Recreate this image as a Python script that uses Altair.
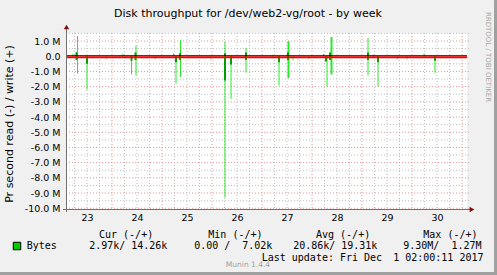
import altair as alt
import pandas as pd
import numpy as np

# ---------------- data (values in millions of bytes per second) ----------------
spike_day = [23.22, 23.31, 23.50, 23.88, 24.22, 24.26, 24.39, 24.48, 24.86, 25.23,
             25.28, 25.37, 25.98, 26.26, 26.38, 26.68, 27.22, 27.34, 27.53, 27.62,
             27.94, 28.23, 28.30, 28.39, 29.12, 29.23, 29.32, 29.71, 29.90, 30.24, 30.46]
spike_write = [0.15, 1.33, 0.0, 0.0, 0.17, 0.0, 0.0, 0.70, 0.0, 0.20,
               0.0, 1.07, 0.0, 0.95, 0.0, 0.55, 0.10, 0.0, 1.00, 0.0,
               0.0, 0.15, 0.0, 1.27, 1.20, 0.10, 0.0, 0.0, 0.0, 0.20, 0.0]
spike_read = [0.0, -1.15, -2.20, -0.20, 0.0, -0.15, -1.20, -1.27, -0.20, 0.0,
              -1.80, -1.36, -0.20, -9.30, -2.80, -1.08, -0.15, -1.93, -1.43, -0.27,
              -0.20, 0.0, -2.00, -1.20, -1.27, -0.05, -2.00, -0.20, -0.20, -0.10, -1.08]
spike_width = [1, 1, 1, 1, 1, 1, 1, 1, 1, 1,
               1, 1, 1, 1, 1, 1, 1, 1, 2, 1,
               1, 1, 1, 2, 1, 1, 1, 1, 1, 1, 1]

core_day = [23.29, 23.50, 24.39, 24.47, 25.28, 25.36, 26.26, 26.38, 26.68, 27.34,
            27.52, 28.28, 28.36, 29.12, 29.32, 30.46]
core_top = [0.27, 0.0, 0.0, 0.25, 0.0, 0.20, 0.20, 0.0, 0.25, 0.0,
            0.25, 0.0, 0.25, 0.25, 0.0, 0.0]
core_bottom = [-0.25, -0.50, -0.30, -0.25, -0.40, -0.25, -1.60, -0.55, -0.25, -0.40,
               -0.25, -0.35, -0.25, -0.25, -0.40, -0.30]

day_labels = ["23", "24", "25", "26", "27", "28", "29", "30"]
y_ticks = [1, 0, -1, -2, -3, -4, -5, -6, -7, -8, -9, -10]

title_text = "Disk throughput for /dev/web2-vg/root - by week"
ytitle_text = "Pr second read (-) / write (+)"
side_text = "RRDTOOL / TOBI OETIKER"
legend_name = "Bytes"
legend_headers = ["Cur (-/+)", "Min (-/+)", "Avg (-/+)", "Max (-/+)"]
legend_left = ["2.97k/", "0.00 /", "20.86k/", "9.30M/"]
legend_right = ["14.26k", "7.02k", "19.31k", "1.27M"]
update_left = "Last update: Fri Dec"
update_right = "1 02:00:11 2017"
munin_text = "Munin 1.4.4"

# ---------------- geometry ----------------
W, H = 401, 176
X0, Y0 = 66, 33
XDOM = [23.08, 31.10]
YDOM = [-10.05, 1.53]

FONT = "DejaVu Sans"
MONO = "DejaVu Sans Mono"
BRIGHT = "#2BE82B"
DARK = "#00A000"

xs = alt.Scale(domain=XDOM, nice=False, zero=False)
ys = alt.Scale(domain=YDOM, nice=False, zero=False)

label_days = [int(d) + 0.5 for d in day_labels]
X_AX = alt.Axis(values=label_days, labelExpr="toString(floor(datum.value))",
                title=None, grid=False, domain=False, ticks=False,
                labelPadding=3, labelFontSize=9.5, labelFont=FONT, labelColor="#000000")
Y_AX = alt.Axis(values=y_ticks,
                labelExpr="datum.value == 0 ? '0.0' : (datum.value < 0 ? '-' : '') + format(abs(datum.value), '.1f') + ' M'",
                title=None, grid=False, domain=False, ticks=False,
                labelPadding=6, labelFontSize=9.5, labelFont=FONT, labelColor="#000000")

# grid positions
minor_x = [d for d in np.arange(23.25, 31.1, 0.25) if abs(d - round(d)) > 1e-6]
major_x = [float(d) for d in range(24, 32)]
minor_y = [v + 0.5 for v in range(-11, 2) if YDOM[0] < v + 0.5 < YDOM[1]]
major_y = [float(v) for v in range(-10, 2) if v != 0]

def vgrid(vals, color):
    df = pd.DataFrame({"x": vals})
    return alt.Chart(df).mark_rule(color=color, strokeWidth=1, strokeDash=[1, 2]).encode(
        x=alt.X("x:Q", scale=xs, axis=X_AX), y=alt.value(0), y2=alt.value(H))

def hgrid(vals, color):
    df = pd.DataFrame({"y": vals})
    return alt.Chart(df).mark_rule(color=color, strokeWidth=1, strokeDash=[1, 2]).encode(
        y=alt.Y("y:Q", scale=ys, axis=Y_AX), x=alt.value(0), x2=alt.value(W + 3))

grid = [vgrid(minor_x, "#BEBEBE"), hgrid(minor_y, "#BEBEBE"),
        vgrid(major_x, "#E89494"), hgrid(major_y, "#E89494")]

spikes = pd.DataFrame({"x": spike_day, "top": spike_write, "bottom": spike_read, "w": spike_width})
spike_layer = alt.Chart(spikes).mark_rule(color=BRIGHT).encode(
    x=alt.X("x:Q", scale=xs, axis=X_AX),
    y=alt.Y("top:Q", scale=ys, axis=Y_AX),
    y2="bottom:Q",
    strokeWidth=alt.StrokeWidth("w:Q", scale=None, legend=None))

cores = pd.DataFrame({"x": core_day, "top": core_top, "bottom": core_bottom})
core_layer = alt.Chart(cores).mark_rule(color=DARK, strokeWidth=2).encode(
    x=alt.X("x:Q", scale=xs, axis=X_AX),
    y=alt.Y("top:Q", scale=ys, axis=Y_AX),
    y2="bottom:Q")

zero_df = pd.DataFrame({"y": [0.0]})
zero_red = alt.Chart(zero_df).mark_rule(color="#FF0000", strokeWidth=2, yOffset=1).encode(
    y=alt.Y("y:Q", scale=ys, axis=Y_AX), x=alt.value(0), x2=alt.value(W))
zero_black = alt.Chart(zero_df).mark_rule(color="#000000", strokeWidth=1, yOffset=-0.5).encode(
    y=alt.Y("y:Q", scale=ys, axis=Y_AX), x=alt.value(0), x2=alt.value(W))

one = pd.DataFrame({"a": [0]})
AXC = "#707070"
yaxis_line = alt.Chart(one).mark_rule(color=AXC, strokeWidth=1).encode(
    x=alt.value(0.5), y=alt.value(H + 3), y2=alt.value(-4))
xaxis_line = alt.Chart(one).mark_rule(color=AXC, strokeWidth=1).encode(
    x=alt.value(-3), x2=alt.value(W + 4), y=alt.value(H + 0.5))
arrow_up = alt.Chart(one).mark_point(shape="triangle-up", filled=True, color="#7F1010",
                                     size=30, opacity=1).encode(x=alt.value(0.5), y=alt.value(-6))
arrow_right = alt.Chart(one).mark_point(shape="triangle-right", filled=True, color="#7F1010",
                                        size=30, opacity=1).encode(x=alt.value(W + 5), y=alt.value(H + 0.5))

def text(df, **kw):
    return alt.Chart(df).mark_text(**kw).encode(
        x=alt.X("px:Q", scale=None), y=alt.Y("py:Q", scale=None), text="t:N")

title_layer = text(pd.DataFrame({"t": [title_text], "px": [248 - X0], "py": [13.5 - Y0]}),
                   font=FONT, fontSize=11, color="#000000", align="center", baseline="middle")
ytitle_layer = text(pd.DataFrame({"t": [ytitle_text], "px": [10 - X0], "py": [124 - Y0]}),
                    font=FONT, fontSize=11, color="#000000", align="center", baseline="middle", angle=270)
side_layer = text(pd.DataFrame({"t": [side_text], "px": [488 - X0], "py": [57 - Y0]}),
                  font=FONT, fontSize=7, color="#A8A8A8", align="center", baseline="middle", angle=90)

hdr = pd.DataFrame({"t": legend_headers, "px": [x - X0 for x in [99, 208.3, 316, 423.3]],
                    "py": [234.5 - Y0] * 4})
hdr_layer = text(hdr, font=MONO, fontSize=10, color="#000000", align="left", baseline="middle")
vl = pd.DataFrame({"t": legend_left, "px": [x - X0 for x in [125.3, 230.3, 335.3, 439.3]],
                   "py": [245.7 - Y0] * 4})
vl_layer = text(vl, font=MONO, fontSize=10, color="#000000", align="right", baseline="middle")
vr = pd.DataFrame({"t": legend_right, "px": [x - X0 for x in [167.3, 272.3, 377.3, 481.5]],
                   "py": [245.7 - Y0] * 4})
vr_layer = text(vr, font=MONO, fontSize=10, color="#000000", align="right", baseline="middle")
name_layer = text(pd.DataFrame({"t": [legend_name], "px": [26.7 - X0], "py": [245.7 - Y0]}),
                  font=MONO, fontSize=10, color="#000000", align="left", baseline="middle")
upd_l = text(pd.DataFrame({"t": [update_left], "px": [261.7 - X0], "py": [257.7 - Y0]}),
             font=MONO, fontSize=10, color="#000000", align="left", baseline="middle")
upd_r = text(pd.DataFrame({"t": [update_right], "px": [483.5 - X0], "py": [257.7 - Y0]}),
             font=MONO, fontSize=10, color="#000000", align="right", baseline="middle")
munin_layer = text(pd.DataFrame({"t": [munin_text], "px": [248 - X0], "py": [264.5 - Y0]}),
                   font=FONT, fontSize=7.5, color="#A0A0A0", align="center", baseline="middle")

swatch = alt.Chart(one).mark_point(shape="square", filled=True, color="#00CC00", stroke="#000000",
                                   strokeWidth=1, size=56, opacity=1).encode(
    x=alt.value(17 - X0), y=alt.value(246 - Y0), fill=alt.value("#00CC00"),
    stroke=alt.value("#000000"))

border_b = alt.Chart(one).mark_rule(color="#A0A0A0", strokeWidth=3).encode(
    x=alt.value(-X0), x2=alt.value(497 - X0), y=alt.value(273.5 - Y0))
border_r = alt.Chart(one).mark_rule(color="#A0A0A0", strokeWidth=3).encode(
    x=alt.value(495.5 - X0), y=alt.value(-Y0), y2=alt.value(275 - Y0))

chart = alt.layer(
    *grid, spike_layer, core_layer, zero_black, zero_red,
    yaxis_line, xaxis_line, arrow_up, arrow_right,
    title_layer, ytitle_layer, side_layer,
    hdr_layer, vl_layer, vr_layer, name_layer, upd_l, upd_r, munin_layer, swatch,
    border_b, border_r
).properties(
    width=W, height=H,
    autosize=alt.AutoSizeParams(type="none"),
    padding={"left": X0, "top": Y0, "right": 497 - X0 - W, "bottom": 275 - Y0 - H},
    background="#F0F0F0",
).configure_view(fill="#FFFFFF", stroke=None, clip=False)

chart.save("out.html", embed_options={"renderer": "svg", "actions": False})
